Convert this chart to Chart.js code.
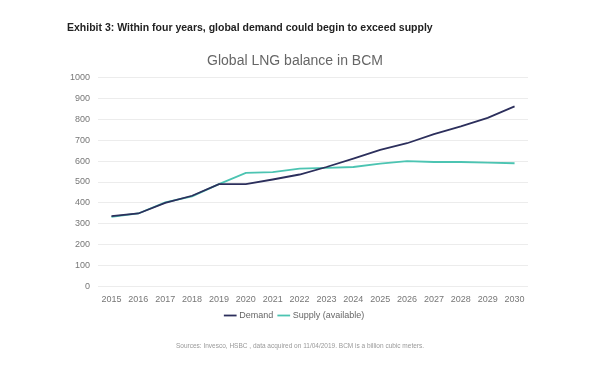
<!DOCTYPE html>
<html>
<head>
<meta charset="utf-8">
<script src="https://cdn.jsdelivr.net/npm/chart.js@4"></script>
<style>
  body { margin: 0; background: #fff; }
  #wrap { position: relative; width: 600px; height: 371px; }
  #chart { position: absolute; left: 0; top: 0; }
  .head { position: absolute; left: 67px; top: 21px; font: bold 10.5px "Liberation Sans", Arial, sans-serif; color: #222; }
  .src { position: absolute; left: 0; width: 600px; top: 342px; text-align: center; font: 6.5px "Liberation Sans", Arial, sans-serif; color: #999; }
</style>
</head>
<body>
<div id="wrap">
  <canvas id="chart" width="600" height="371"></canvas>
  <div class="head">Exhibit 3: Within four years, global demand could begin to exceed supply</div>
  <div class="src">Sources: Invesco, HSBC , data acquired on 11/04/2019. BCM is a billion cubic meters.</div>
</div>
<script>
const years = ['2015', '2016', '2017', '2018', '2019', '2020', '2021', '2022', '2023', '2024', '2025', '2026', '2027', '2028', '2029', '2030'];
const demand = [336, 349, 400, 434, 490, 490, 512, 536, 572, 612, 654, 686, 730, 767, 808, 863];
const supply = [333, 349, 402, 431, 490, 544, 547, 564, 568, 572, 588, 600, 596, 596, 593, 590];
const yTicks = [0, 100, 200, 300, 400, 500, 600, 700, 800, 900, 1000];

document.addEventListener('DOMContentLoaded', function() {
    const ctx = document.getElementById('chart').getContext('2d');
    new Chart(ctx, {
        type: 'line',
        data: {
            labels: years,
            datasets: [{
                label: 'Demand',
                data: demand,
                borderColor: '#2c2f5c',
                backgroundColor: '#2c2f5c',
                borderWidth: 1.8,
                pointRadius: 0,
                tension: 0
            }, {
                label: 'Supply (available)',
                data: supply,
                borderColor: '#4cc4b2',
                backgroundColor: '#4cc4b2',
                borderWidth: 1.8,
                pointRadius: 0,
                tension: 0
            }]
        },
        options: {
            responsive: false,
            animation: false,
            layout: { padding: { left: 62, right: 72, top: 53, bottom: 41 } },
            plugins: {
                title: {
                    display: true,
                    text: 'Global LNG balance in BCM',
                    color: '#666',
                    font: { family: 'Liberation Sans', size: 14, weight: 'normal' },
                    padding: { top: 0, bottom: 8 }
                },
                legend: {
                    position: 'bottom',
                    labels: {
                        usePointStyle: true,
                        pointStyle: 'line',
                        boxWidth: 15,
                        padding: 6,
                        color: '#666',
                        font: { family: 'Liberation Sans', size: 9 }
                    }
                },
                tooltip: { enabled: false }
            },
            scales: {
                x: {
                    offset: true,
                    grid: { display: false },
                    border: { display: false },
                    ticks: { color: '#777', font: { family: 'Liberation Sans', size: 9 }, maxRotation: 0, autoSkip: false, padding: 0 }
                },
                y: {
                    min: 0,
                    max: 1000,
                    afterBuildTicks: function(axis) { axis.ticks = yTicks.map(v => ({ value: v })); },
                    grid: { color: '#ececec', lineWidth: 1, drawTicks: false },
                    border: { display: false },
                    ticks: { color: '#777', font: { family: 'Liberation Sans', size: 9 }, padding: 8, callback: v => String(v) }
                }
            }
        }
    });
});
</script>
</body>
</html>
